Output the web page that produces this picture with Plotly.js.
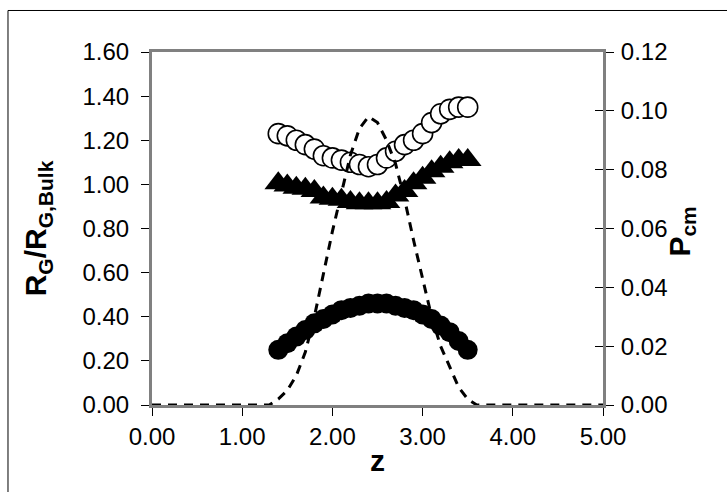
<!DOCTYPE html>
<html><head><meta charset="utf-8">
<script src="https://cdn.plot.ly/plotly-3.0.1.min.js"></script>
<style>html,body{margin:0;padding:0;background:#fff;} #chart{width:727px;height:492px;}</style>
</head><body><div id="chart"></div>
<script>
// Marker positions along z
const zMarkers = [1.4,1.5,1.6,1.7,1.8,1.9,2.0,2.1,2.2,2.3,2.4,2.5,2.6,2.7,2.8,2.9,3.0,3.1,3.2,3.3,3.4,3.5];
// RG/RG,Bulk series
const rgOpen     = [1.23,1.22,1.20,1.18,1.16,1.13,1.12,1.11,1.10,1.09,1.08,1.09,1.12,1.15,1.18,1.20,1.23,1.28,1.32,1.34,1.35,1.35];
const rgTriangle = [1.005,0.995,0.985,0.98,0.97,0.94,0.935,0.93,0.92,0.915,0.915,0.915,0.92,0.95,0.97,1.005,1.03,1.06,1.08,1.10,1.11,1.11];
const rgFilled   = [0.25,0.28,0.31,0.34,0.37,0.39,0.41,0.43,0.44,0.45,0.46,0.46,0.46,0.45,0.44,0.43,0.41,0.39,0.36,0.33,0.29,0.25];
// Pcm profile (right axis)
const zLine = [0.0,1.3,1.4,1.5,1.6,1.7,1.8,1.9,2.0,2.1,2.2,2.3,2.4,2.5,2.6,2.7,2.8,2.9,3.0,3.1,3.2,3.3,3.4,3.5,3.6,5.0];
const pcm   = [0,0,0.002,0.005,0.010,0.018,0.030,0.045,0.059,0.072,0.085,0.094,0.098,0.096,0.090,0.082,0.070,0.056,0.043,0.030,0.020,0.013,0.006,0.002,0,0];

const FONT = 'Liberation Sans, Arial, sans-serif';
const traces = [
  {x: zMarkers, y: rgOpen, type:'scatter', mode:'markers', yaxis:'y',
   marker:{symbol:'circle', size:20, color:'#ffffff', line:{color:'#000000', width:1.6}}},
  {x: zMarkers, y: rgTriangle, type:'scatter', mode:'markers', yaxis:'y',
   marker:{symbol:'triangle-up', size:24, color:'#000000', line:{width:0}}},
  {x: zMarkers, y: rgFilled, type:'scatter', mode:'markers', yaxis:'y',
   marker:{symbol:'circle', size:20, color:'#000000', line:{width:0}}},
  {x: zLine, y: pcm, type:'scatter', mode:'lines', yaxis:'y2',
   line:{color:'#000000', width:3, dash:'9px,7px'}},
  {x: [], y: [], type:'scatter', mode:'markers', yaxis:'y3', hoverinfo:'skip'}
];

const axisCommon = {
  showgrid:false, zeroline:false, showline:true, linecolor:'#808080', linewidth:3,
  ticks:'outside', ticklen:8, tickwidth:1, tickcolor:'#000000',
  tickfont:{family:FONT, size:24, color:'#000000'}, tickformat:'.2f'
};

const layout = {
  width:727, height:492,
  margin:{l:152, r:124, t:52, b:87, pad:0},
  paper_bgcolor:'#ffffff', plot_bgcolor:'#ffffff',
  showlegend:false,
  font:{family:FONT, color:'#000000'},
  xaxis: Object.assign({}, axisCommon, {
    range:[0,5], dtick:1, tick0:0, mirror:true,
    automargin:true,
    title:{text:'<b>z</b>', font:{family:FONT, size:30, color:'#000'}, standoff:2}
  }),
  yaxis: Object.assign({}, axisCommon, {
    range:[0,1.6], dtick:0.2, tick0:0, mirror:true, ticklabelstandoff:7,
    automargin:true,
    title:{text:'<b>R<sub>G</sub>/R<sub>G,Bulk</sub></b>', font:{family:FONT, size:30, color:'#000'}, standoff:27}
  }),
  yaxis2: Object.assign({}, axisCommon, {
    range:[0,0.12], dtick:0.02, tick0:0, overlaying:'y', side:'right', anchor:'x', ticklabelstandoff:2
  }),
  yaxis3: {
    range:[0,0.12], dtick:0.02, tick0:0, overlaying:'y', side:'right', anchor:'x',
    showgrid:false, zeroline:false, showline:false, showticklabels:false,
    ticks:'inside', ticklen:8, tickwidth:1, tickcolor:'#000000'
  },
  annotations:[{
    text:'<b>P<sub>cm</sub></b>', textangle:-90, showarrow:false,
    xref:'paper', yref:'paper', x:1.172, y:0.49, xanchor:'center', yanchor:'middle',
    font:{family:FONT, size:30, color:'#000'}
  }],
  shapes:[{
    type:'rect', xref:'paper', yref:'paper',
    x0:-0.3193, x1:1.40, y0:-0.40, y1:1.1176,
    line:{color:'#000000', width:1}, fillcolor:'rgba(0,0,0,0)', layer:'above'
  }]
};

Plotly.newPlot('chart', traces, layout, {displayModeBar:false, staticPlot:true});
</script>
</body></html>
